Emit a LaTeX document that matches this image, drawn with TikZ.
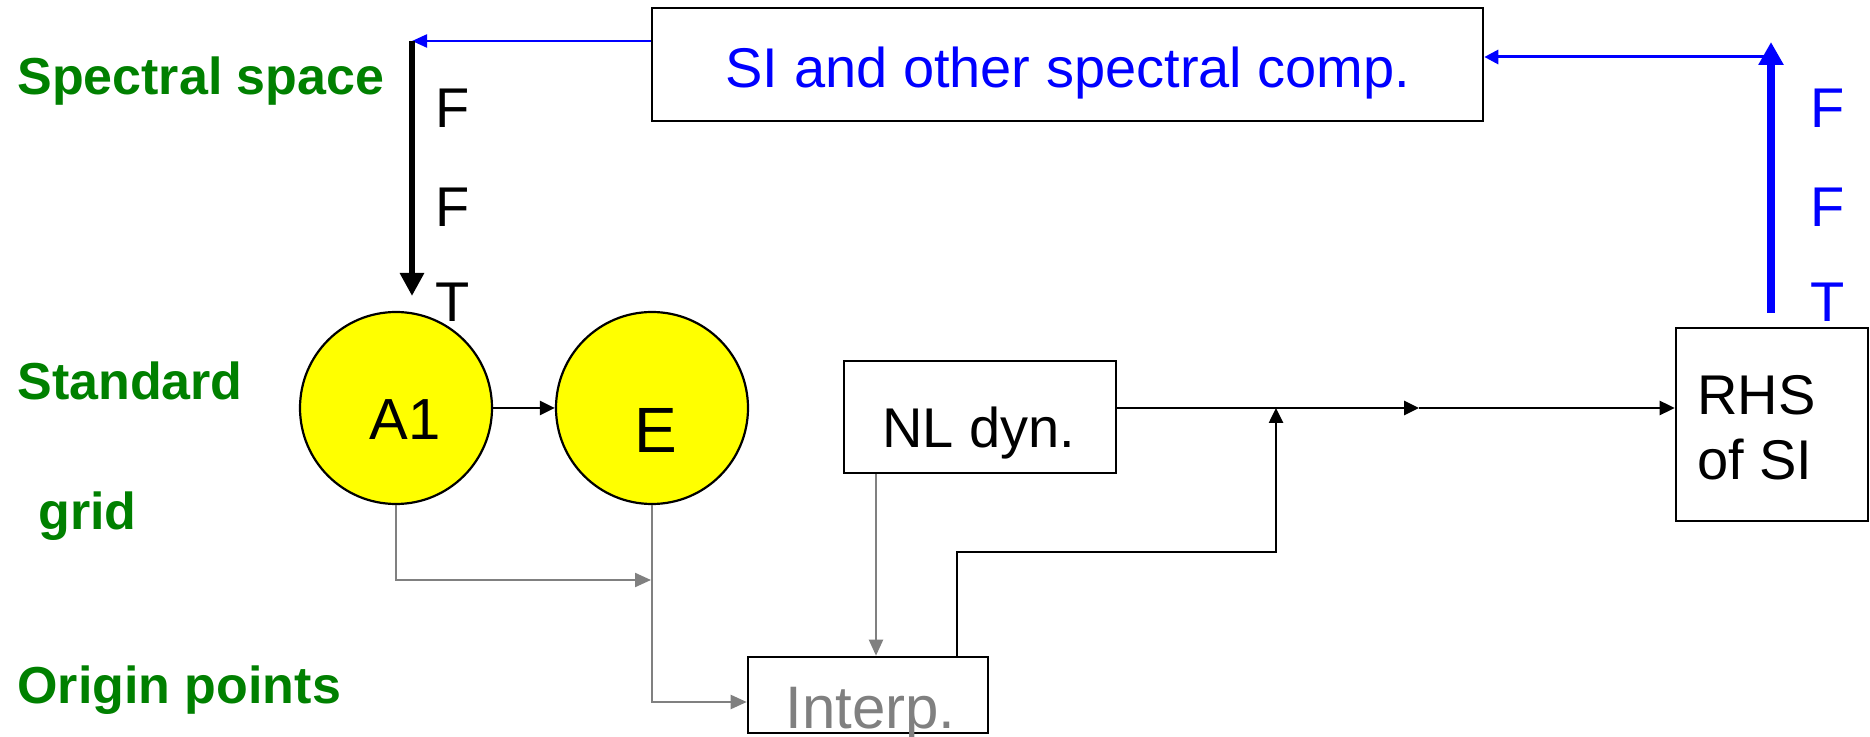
\documentclass[tikz,border=0pt]{standalone}
\usepackage{fontspec}
\setmainfont{Liberation Sans}
\usetikzlibrary{arrows.meta}
\definecolor{dgreen}{RGB}{0,128,0}
\definecolor{pblue}{RGB}{0,0,255}
\definecolor{pgray}{RGB}{128,128,128}
\definecolor{pyellow}{RGB}{255,255,0}
\begin{document}
\begin{tikzpicture}[x=0.5pt,y=-0.5pt,
  box/.style={draw=black, line width=1.3pt, rectangle, inner sep=0pt},
  ball/.style={draw=black, line width=1.1pt, circle, fill=pyellow, minimum size=96pt, inner sep=0pt},
  txt/.style={inner sep=0pt, anchor=base west},
  glabel/.style={txt, text=dgreen, font=\bfseries\fontsize{26pt}{30pt}\selectfont},
  bigtxt/.style={txt, font=\fontsize{28pt}{32pt}\selectfont},
  blk/.style={draw=black, line width=1.3pt, -{Triangle[length=7.5pt,width=7pt]}},
  gr/.style={draw=pgray, line width=1.1pt, -{Triangle[length=8pt,width=7pt]}},
  fftblack/.style={draw=black, line width=3.2pt, -{Triangle[length=11.5pt,width=11.5pt]}},
  fftblue/.style={draw=pblue, line width=3.6pt, -{Triangle[length=11.5pt,width=12pt]}},
  bluethin/.style={draw=pblue, line width=1.1pt, -{Triangle[length=7.5pt,width=6.5pt]}},
  bluemid/.style={draw=pblue, line width=1.5pt, -{Triangle[length=7pt,width=7pt]}}
]
\useasboundingbox (0,0) rectangle (1870,737);

% boxes
\node[box, minimum width=415.5pt, minimum height=56.5pt] (si) at (1067.5,64.5) {};
\node[txt, anchor=base, text=pblue, font=\fontsize{28pt}{32pt}\selectfont] (sit) at (1068,88) {SI and other spectral comp.};

\node[ball] (a1) at (396,408) {};
\node[ball] (e) at (652,408) {};
\node[txt, anchor=base, font=\fontsize{29pt}{32pt}\selectfont] (a1t) at (405,440) {A1};
\node[txt, anchor=base, font=\fontsize{32pt}{36pt}\selectfont] (et) at (656,453) {E};

\node[box, minimum width=136pt, minimum height=56pt] (nl) at (980,417) {};
\node[bigtxt] (nlt) at (882,448) {NL dyn.};

\node[box, minimum width=120pt, minimum height=38pt] (ip) at (868,695) {};
\node[txt, text=pgray, font=\fontsize{30pt}{34pt}\selectfont] (ipt) at (785,728) {Interp.};

\node[box, minimum width=96pt, minimum height=96.5pt] (rhs) at (1772,424.5) {};
\node[bigtxt] (rhs1) at (1697,415) {RHS};
\node[bigtxt] (rhs2) at (1697,480) {of SI};

% green labels
\node[glabel] (lspec) at (17,95) {Spectral space};
\node[glabel] (lstd) at (17,400) {Standard};
\node[glabel] (lgrid) at (38,530) {grid};
\node[glabel] (lorig) at (17,703) {Origin points};

% FFT letters
\node[bigtxt] (f1) at (435,128) {F};
\node[bigtxt] (f2) at (435,227) {F};
\node[bigtxt] (f3) at (435,322) {T};
\node[bigtxt, text=pblue] (b1) at (1810,128) {F};
\node[bigtxt, text=pblue] (b2) at (1810,227) {F};
\node[bigtxt, text=pblue] (b3) at (1810,322) {T};

% top-left connectors
\coordinate (bl) at (412,41);
\coordinate (ffte) at (412,296);
\draw[bluethin] (si.west |- bl) -- (bl);
\draw[fftblack] (bl) -- (ffte);

% right connectors
\coordinate (br) at (1771,313);
\coordinate (bt) at (1771,42);
\coordinate (bj) at (1771,57);
\draw[fftblue] (br) -- (bt);
\draw[bluemid] (bj) -- (si.east |- bj);

% A1 -> E
\draw[blk] (a1) -- (e);

% gray connectors
\coordinate (gj) at (651,580);
\draw[gr] (a1.south) -- (a1.south |- gj) -- (gj);
\coordinate (ej) at (652,702);
\draw[gr] (e.south) -- (ej) -- (ip.west |- ej);
\coordinate (nd) at (876,0);
\draw[gr] (nl.south -| nd) -- (ip.north -| nd);

% interp -> junction
\coordinate (c1) at (957,552);
\coordinate (c2) at (1276,552);
\draw[blk] (ip.north -| c1) -- (c1) -- (c2) -- (c2 |- a1);

% main line to RHS
\coordinate (m) at (1419,408);
\draw[blk] (nl.east |- m) -- (m);
\draw[blk] (m) -- (rhs.west |- m);
\end{tikzpicture}
\end{document}
